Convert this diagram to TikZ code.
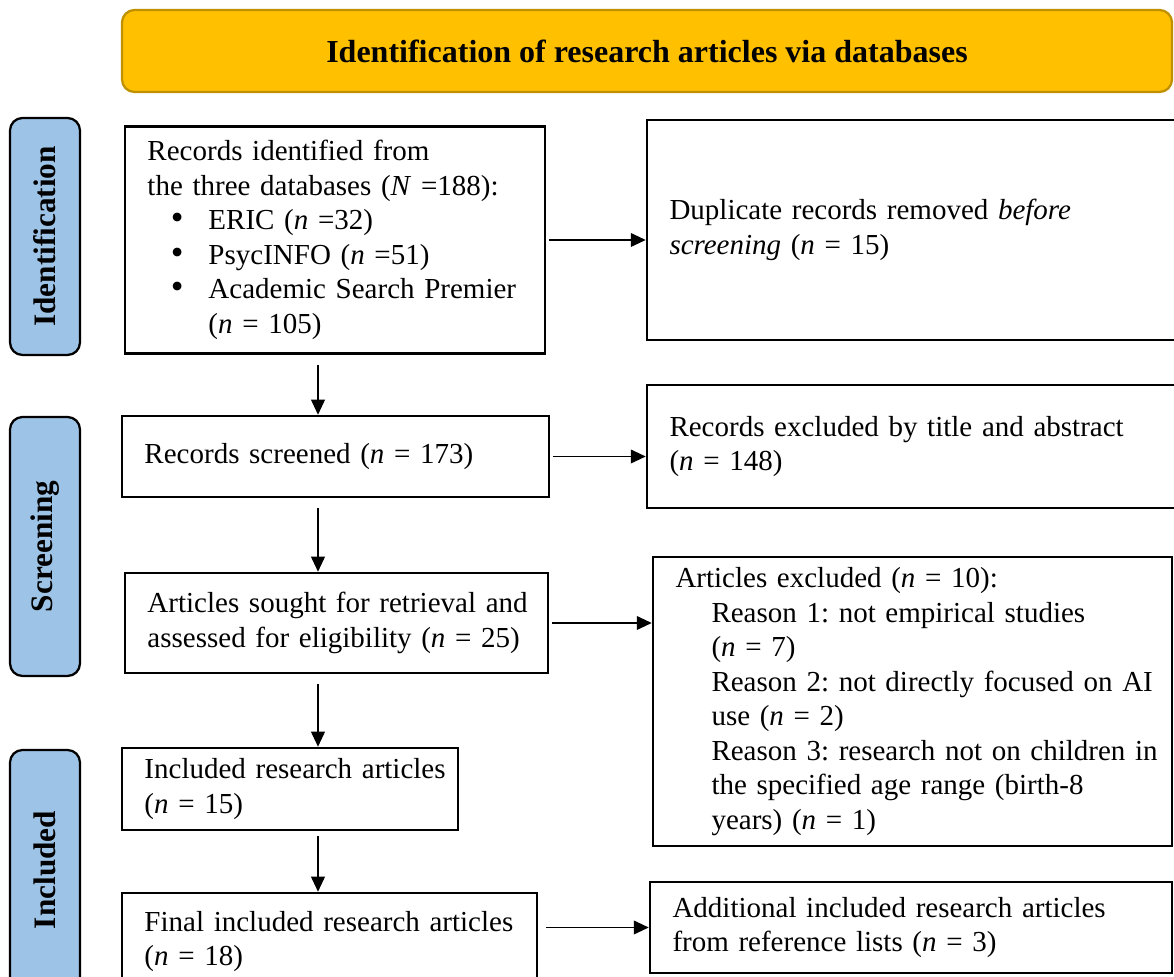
\documentclass[tikz,border=0pt]{standalone}
\usepackage{fontspec}
\usepackage{graphicx}
\setmainfont{Liberation Serif}
\usetikzlibrary{arrows.meta,positioning,calc}
\definecolor{bannergold}{RGB}{255,192,0}
\definecolor{bannerrim}{RGB}{191,144,0}
\definecolor{phaseblue}{RGB}{157,195,230}
\newcommand{\dbitem}{\hspace*{9.4pt}\makebox[15pt][l]{\scalebox{1.25}{\textbullet}}}
\newcommand{\boxlines}[1]{\begin{tabular}{@{}l@{}}#1\end{tabular}}

\begin{document}
\begin{tikzpicture}[x=0.4pt,y=-0.4pt,
  font=\fontsize{11.6}{13.8}\selectfont,
  execute at begin node=\frenchspacing,
  phase/.style={draw=black,line width=0.9pt,fill=phaseblue,rounded corners=5pt,rotate=90,
    minimum height=28pt,inner sep=0pt,font=\fontsize{12.5}{14}\selectfont\bfseries},
  stage/.style={draw=black,line width=1pt,align=left,inner xsep=9pt,inner ysep=0pt},
  arr/.style={-{Triangle[length=6pt,width=5.5pt]},line width=0.6pt}]

\useasboundingbox (0,0) rectangle (1174,977);

% Title
\node[draw=bannerrim,fill=bannergold,line width=0.9pt,rounded corners=5pt,
  minimum width=420pt,minimum height=32.8pt,
  font=\fontsize{12.8}{14}\selectfont\bfseries] (title) at (647,51)
  {Identification of research articles via databases};

% Phases
\node[phase,minimum width=94.8pt] (idphase) at (45,236.5) {Identification};
\node[phase,minimum width=103.6pt] (scrphase) at (45,546.5) {Screening};
\node[phase,minimum width=96pt] (incphase) at (45,870) {Included};

% Main column
\node[stage,text width=150pt,minimum height=90.8pt] (records) at (335,240) {\boxlines{%
  Records identified from\\
  the three databases (\textit{N} =188):\\
  \dbitem ERIC (\textit{n} =32)\\
  \dbitem PsycINFO (\textit{n} =51)\\
  \dbitem Academic Search Premier\\
  \hspace*{24.4pt}(\textit{n} = 105)}};
\node[stage,text width=152.8pt,minimum height=32.4pt] (screened) at (335.5,456.5)
  {\boxlines{Records screened (\textit{n} = 173)}};
\node[stage,text width=151.2pt,minimum height=40pt] (sought) at (336.5,623)
  {\boxlines{Articles sought for retrieval and\\assessed for eligibility (\textit{n} = 25)}};
\node[stage,text width=116.4pt,minimum height=32.8pt] (included) at (290,789)
  {\boxlines{Included research articles\\(\textit{n} = 15)}};
\node[stage,text width=148pt,minimum height=38.8pt] (final) at (329.5,941.5)
  {\boxlines{Final included research articles\\(\textit{n} = 18)}};

% Side column
\node[stage,text width=197.2pt,minimum height=88pt] (duplicates) at (916,230)
  {\boxlines{Duplicate records removed \textit{before}\\\textit{screening} (\textit{n} = 15)}};
\node[stage,text width=197.2pt,minimum height=49.2pt] (excluded) at (916,446.5)
  {\boxlines{Records excluded by title and abstract\\(\textit{n} = 148)}};
\node[stage,text width=189.6pt,minimum height=115.6pt] (reasons) at (912.5,701.5) {\boxlines{%
  Articles excluded (\textit{n} = 10):\\
  \hspace*{14.4pt}Reason 1: not empirical studies\\
  \hspace*{14.4pt}(\textit{n} = 7)\\
  \hspace*{14.4pt}Reason 2: not directly focused on AI\\
  \hspace*{14.4pt}use (\textit{n} = 2)\\
  \hspace*{14.4pt}Reason 3: research not on children in\\
  \hspace*{14.4pt}the specified age range (birth-8\\
  \hspace*{14.4pt}years) (\textit{n} = 1)}};
\node[stage,text width=190.8pt,minimum height=36.4pt] (additional) at (911,927.5)
  {\boxlines{Additional included research articles\\from reference lists (\textit{n} = 3)}};

% Arrows
\coordinate (spine) at (318,0);
\draw[arr] ([yshift=-4pt]records.south -| spine) -- (screened.north -| spine);
\draw[arr] ([yshift=-4pt]screened.south -| spine) -- (sought.north -| spine);
\draw[arr] ([yshift=-4pt]sought.south -| spine) -- (included.north -| spine);
\draw[arr] ([yshift=-2pt]included.south -| spine) -- (final.north -| spine);

\draw[arr] ([xshift=1pt]records.east) -- (records.east -| duplicates.west);
\draw[arr] ([xshift=1pt]screened.east) -- (screened.east -| excluded.west);
\draw[arr] ([xshift=1pt]sought.east) -- (sought.east -| reasons.west);
\draw[arr] ([xshift=3pt]final.east |- additional.west) -- (additional.west);

\end{tikzpicture}
\end{document}
